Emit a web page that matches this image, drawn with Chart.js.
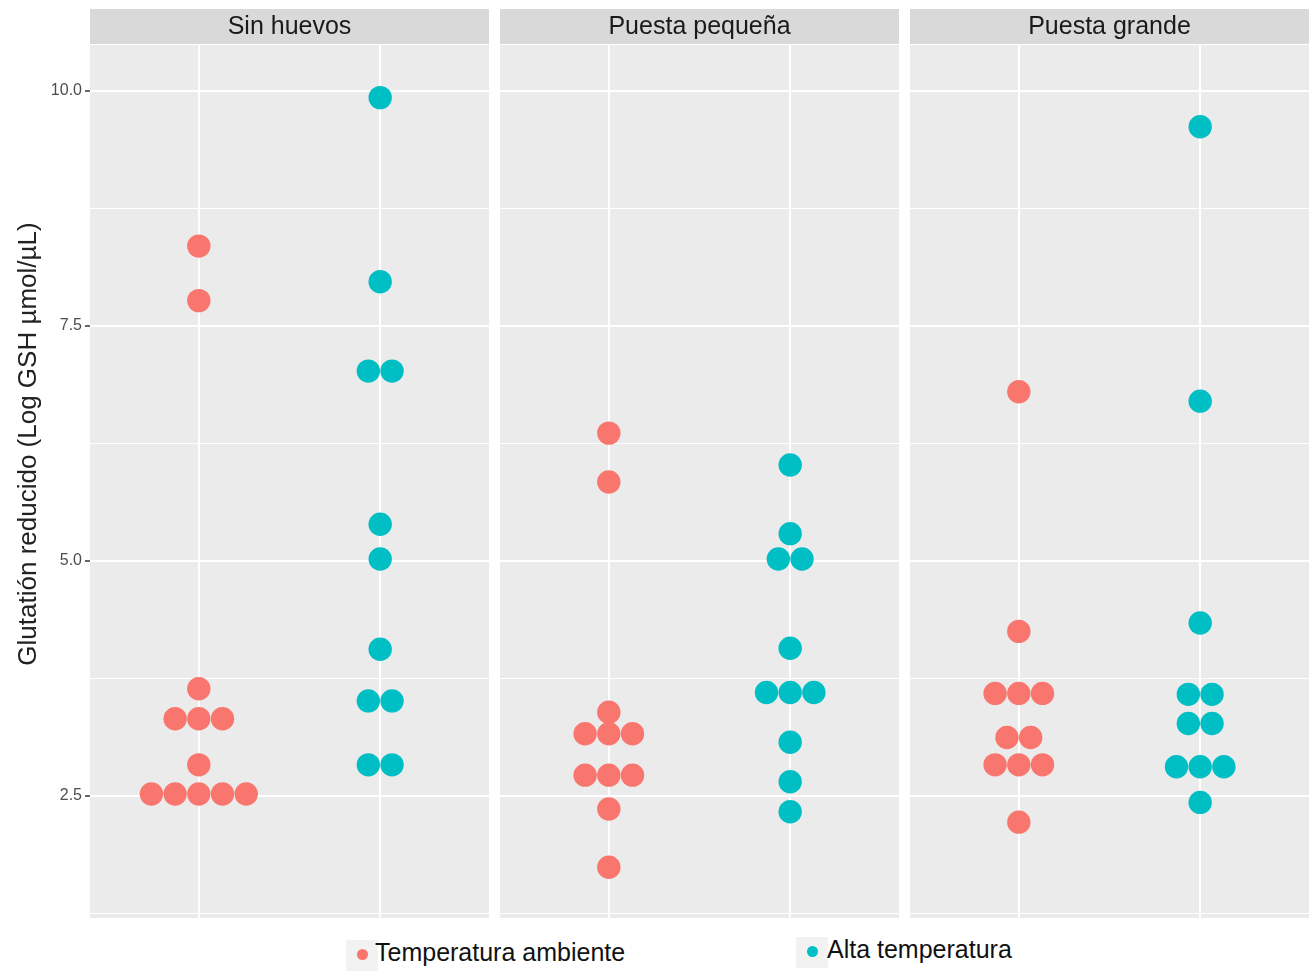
<!DOCTYPE html>
<html lang="es">
<head>
<meta charset="UTF-8">
<title>Glutatión reducido</title>
<script src="https://cdn.jsdelivr.net/npm/chart.js"></script>
<style>
  body { margin: 0; background: #fff; width: 1312px; height: 971px; position: relative; overflow: hidden;
         font-family: "Liberation Sans", Arial, sans-serif; }
  canvas { position: absolute; top: 0; }
  #ytitle { position: absolute; left: -273px; top: 429px; width: 600px; height: 30px; line-height: 30px;
            text-align: center; font-size: 26px; color: #222; transform: rotate(-90deg); white-space: nowrap; }
  .key { position: absolute; top: 940px; width: 32px; height: 31px; background: #f2f2f2; }
  .key span { position: absolute; left: 11px; top: 9px; width: 11px; height: 11px; border-radius: 50%; }
  .lab { position: absolute; top: 937px; font-size: 25px; line-height: 30px; color: #111; white-space: nowrap; }
</style>
</head>
<body>
<canvas id="p1" width="489" height="930" style="left:0px"></canvas>
<canvas id="p2" width="399" height="930" style="left:500px"></canvas>
<canvas id="p3" width="399" height="930" style="left:910px"></canvas>
<div id="ytitle">Glutatión reducido (Log GSH µmol/µL)</div>
<div class="key" style="left:346px"><span style="background:#F8766D"></span></div>
<div class="lab" style="left:375px">Temperatura ambiente</div>
<div class="key" style="left:796px; top:937px"><span style="background:#00BFC4"></span></div>
<div class="lab" style="left:827px; top:934px">Alta temperatura</div>

<script>
// facetas y grupos
const panels = ['Sin huevos', 'Puesta pequeña', 'Puesta grande'];
const groups = ['Temperatura ambiente', 'Alta temperatura'];
const colors = ['#F8766D', '#00BFC4'];
const yTicks = [1.25, 2.5, 3.75, 5, 6.25, 7.5, 8.75, 10];

// valores (un punto por individuo)
const sinHuevosAmb  = [8.35, 7.77, 3.64, 3.32, 3.32, 3.32, 2.83, 2.52, 2.52, 2.52, 2.52, 2.52];
const sinHuevosAlta = [9.93, 7.97, 7.02, 7.02, 5.39, 5.02, 4.06, 3.51, 3.51, 2.83, 2.83];
const pequenaAmb    = [6.36, 5.84, 3.39, 3.16, 3.16, 3.16, 2.72, 2.72, 2.72, 2.36, 1.74];
const pequenaAlta   = [6.02, 5.29, 5.02, 5.02, 4.07, 3.60, 3.60, 3.60, 3.07, 2.65, 2.33];
const grandeAmb     = [6.80, 4.25, 3.59, 3.59, 3.59, 3.12, 3.12, 2.83, 2.83, 2.83, 2.22];
const grandeAlta    = [9.62, 6.70, 4.34, 3.58, 3.58, 3.27, 3.27, 2.81, 2.81, 2.81, 2.43];

const dotWidth = 0.1307; // ancho de un punto en unidades del eje x

// apila horizontalmente los valores repetidos, centrados en la categoría
function stack(values, center) {
  const counts = {};
  values.forEach(v => { counts[v] = (counts[v] || 0) + 1; });
  const seen = {};
  return values.map(v => {
    const i = seen[v] || 0;
    seen[v] = i + 1;
    return { x: center + (i - (counts[v] - 1) / 2) * dotWidth, y: v };
  });
}

const panelBg = {
  id: 'panelBg',
  beforeDraw(chart, args, opts) {
    const { ctx, chartArea: a } = chart;
    ctx.save();
    ctx.fillStyle = '#ebebeb';
    ctx.fillRect(a.left, a.top, a.right - a.left, a.bottom - a.top);
    ctx.fillStyle = '#d9d9d9';
    ctx.fillRect(a.left, 9, a.right - a.left, 35);
    ctx.fillStyle = '#1a1a1a';
    ctx.font = '25px "Liberation Sans", Arial, sans-serif';
    ctx.textAlign = 'center';
    ctx.textBaseline = 'middle';
    ctx.fillText(opts.text, (a.left + a.right) / 2, 27);
    ctx.restore();
  }
};

function makePanel(id, idx, amb, alta, showY) {
  new Chart(document.getElementById(id), {
    type: 'scatter',
    data: {
      datasets: [
        { label: groups[0], data: stack(amb, 1), backgroundColor: colors[0], borderColor: colors[0],
          pointRadius: 11.7, borderWidth: 0 },
        { label: groups[1], data: stack(alta, 2), backgroundColor: colors[1], borderColor: colors[1],
          pointRadius: 11.7, borderWidth: 0 }
      ]
    },
    options: {
      responsive: false,
      animation: false,
      layout: { autoPadding: false, padding: { top: 45, bottom: 12 } },
      plugins: {
        legend: { display: false },
        tooltip: { enabled: false },
        panelBg: { text: panels[idx] }
      },
      scales: {
        x: {
          type: 'linear', min: 0.4, max: 2.6,
          afterBuildTicks: s => { s.ticks = [{ value: 1 }, { value: 2 }]; },
          afterFit: s => { s.height = 0; },
          ticks: { display: false },
          grid: { color: '#ffffff', lineWidth: 2, drawTicks: false },
          border: { display: false }
        },
        y: {
          min: 1.2, max: 10.49,
          afterBuildTicks: s => { s.ticks = yTicks.map(v => ({ value: v })); },
          afterFit: s => { s.width = showY ? 90 : 0; s.paddingTop = 0; s.paddingBottom = 0; },
          ticks: {
            display: showY,
            padding: 3,
            color: '#4d4d4d',
            font: { size: 16, family: '"Liberation Sans", Arial, sans-serif' },
            callback: v => (v % 2.5 === 0 ? v.toFixed(1) : '')
          },
          grid: {
            color: '#ffffff',
            lineWidth: c => (c.tick && c.tick.value % 2.5 === 0 ? 2 : 1),
            drawTicks: showY,
            tickLength: 5,
            tickWidth: 1.5,
            tickColor: c => (c.tick && c.tick.value % 2.5 === 0 ? '#333333' : 'rgba(0,0,0,0)')
          },
          border: { display: false }
        }
      }
    },
    plugins: [panelBg]
  });
}

makePanel('p1', 0, sinHuevosAmb, sinHuevosAlta, true);
makePanel('p2', 1, pequenaAmb, pequenaAlta, false);
makePanel('p3', 2, grandeAmb, grandeAlta, false);
</script>
</body>
</html>
